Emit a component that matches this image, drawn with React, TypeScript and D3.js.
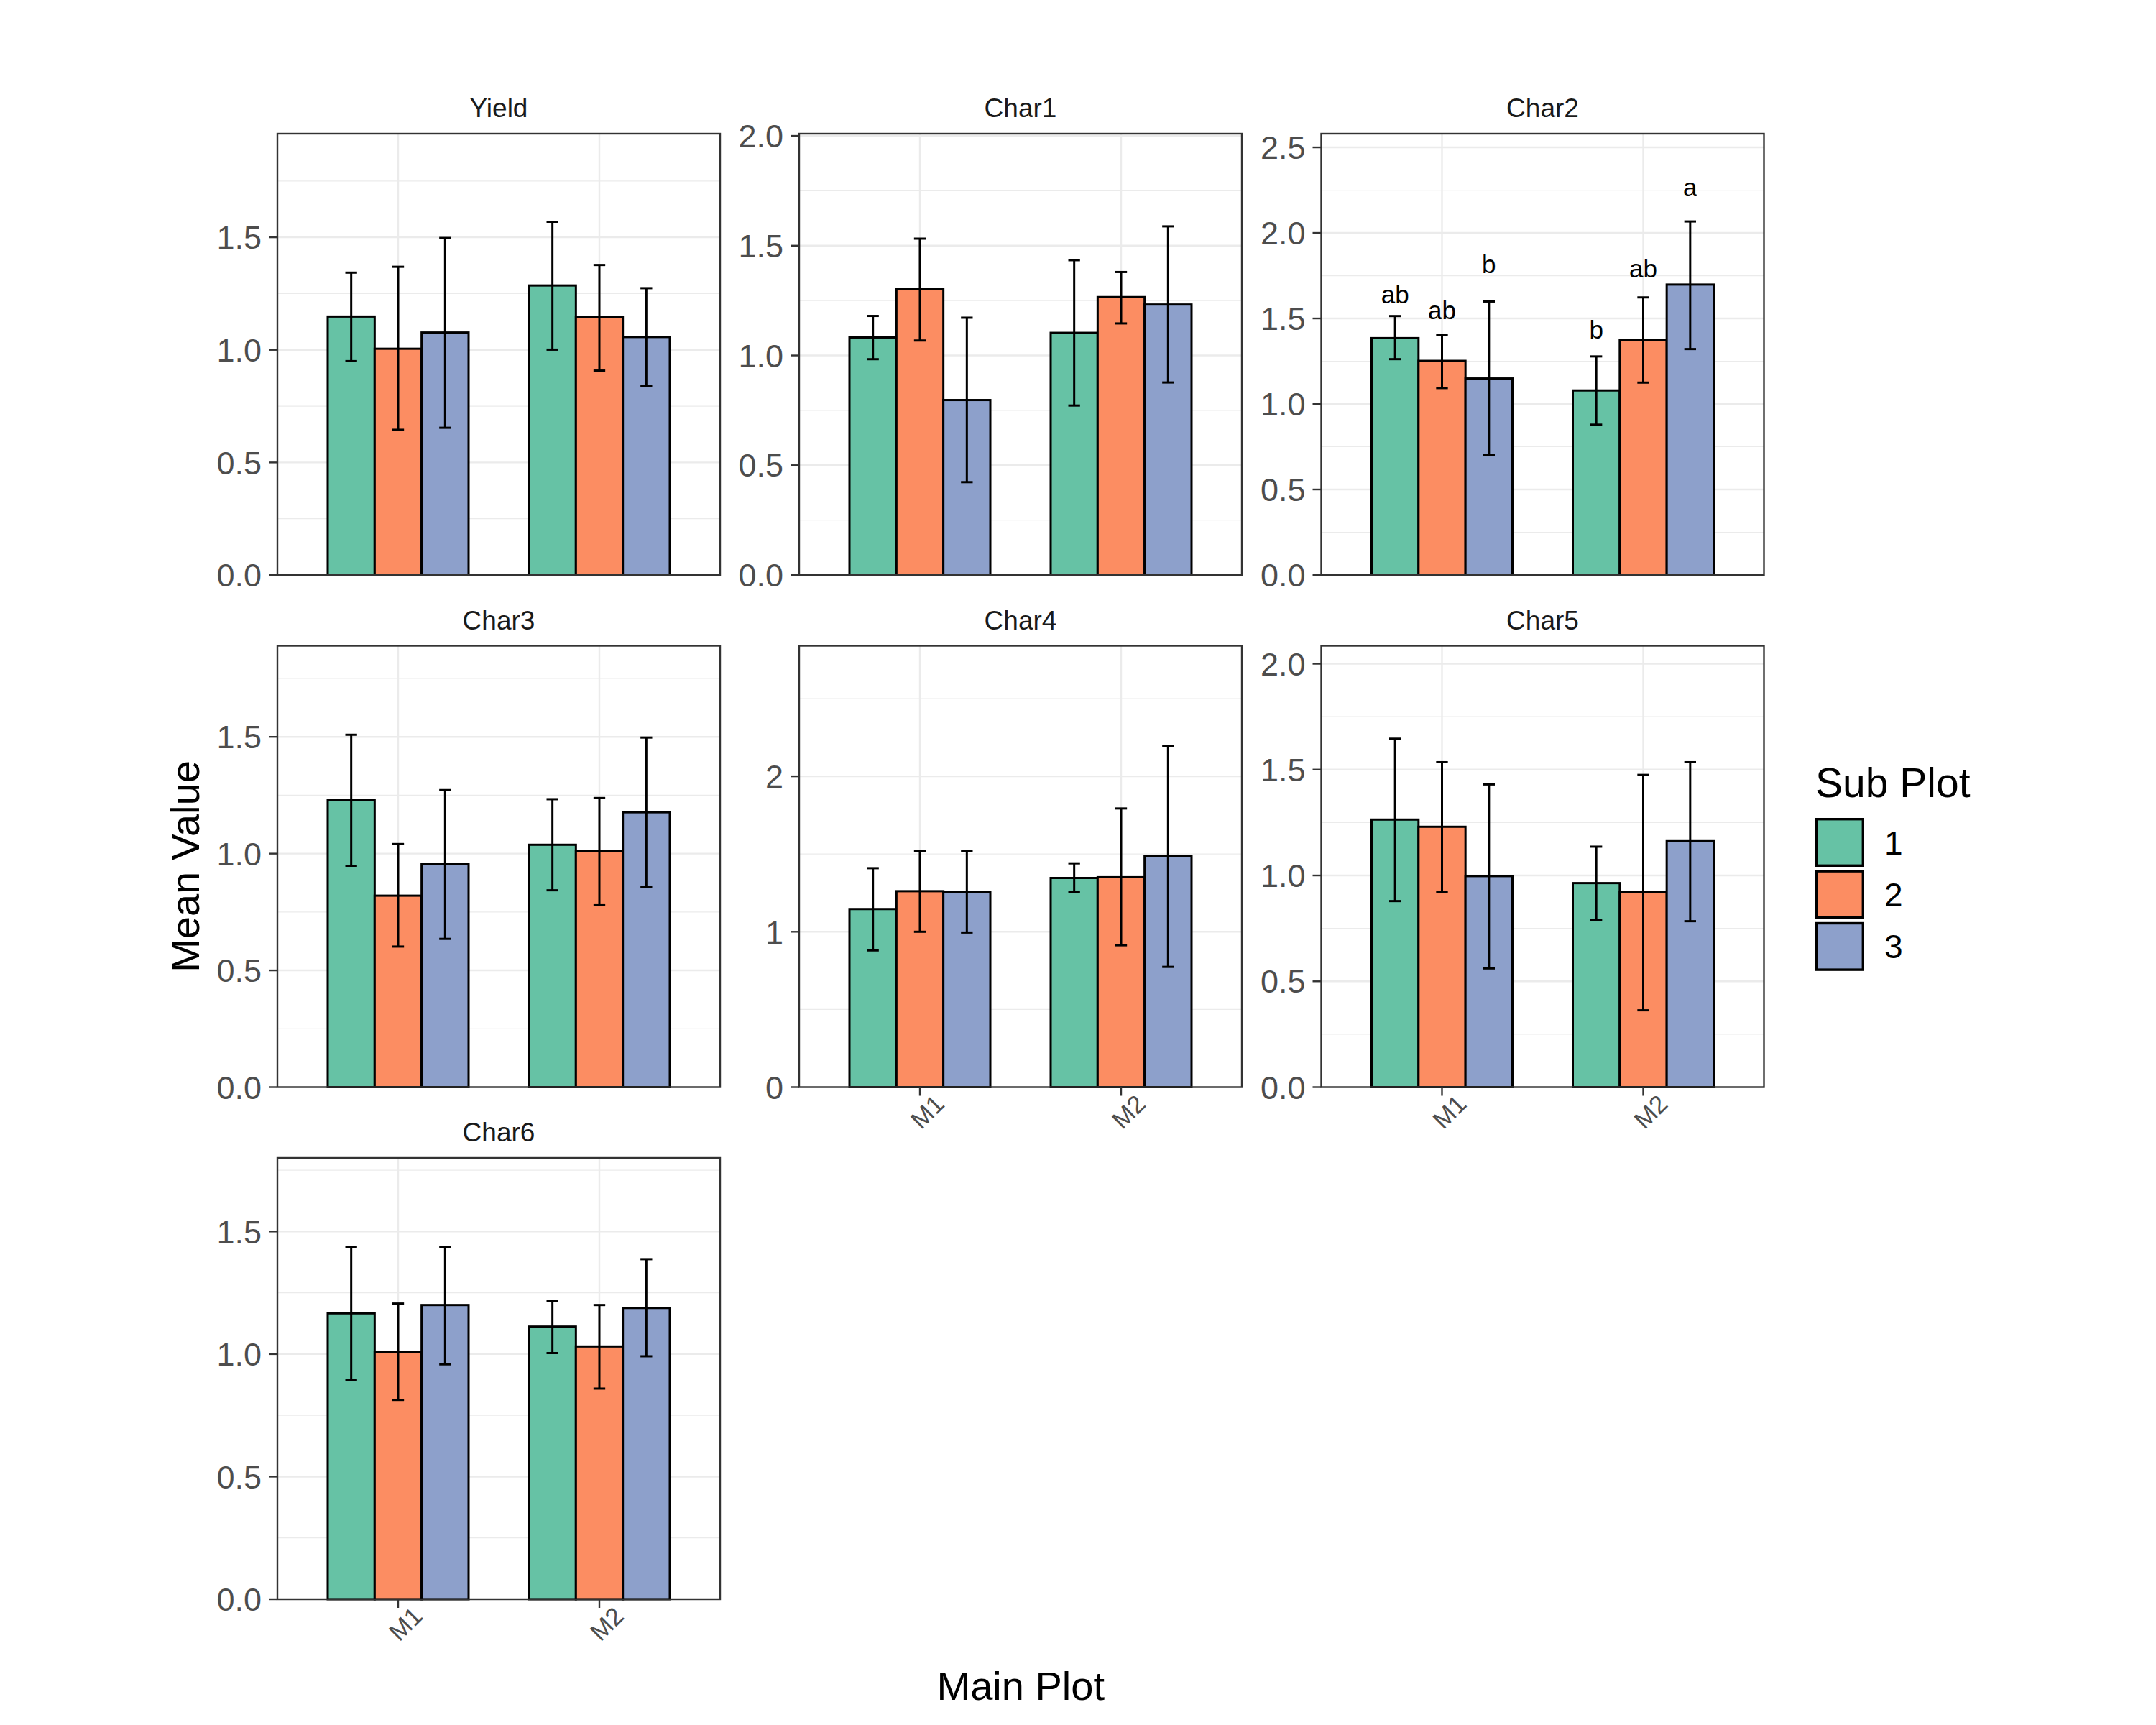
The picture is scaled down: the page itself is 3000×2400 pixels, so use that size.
import React, { useRef, useEffect } from 'react';
import * as d3 from 'd3';

// facet panels, in facet_wrap order (3 columns)
const panelNames = ['Yield', 'Char1', 'Char2', 'Char3', 'Char4', 'Char5', 'Char6'];
const mainPlots = ['M1', 'M2'];
const subPlots = ['1', '2', '3'];
const subColors = ['#66C2A5', '#FC8D62', '#8DA0CB'];

// mean per bar: M1 (sub 1,2,3), M2 (sub 1,2,3)
const meanValues = [
  [1.148, 1.005, 1.077, 1.286, 1.145, 1.057],
  [1.082, 1.302, 0.797, 1.103, 1.266, 1.232],
  [1.385, 1.252, 1.149, 1.079, 1.375, 1.698],
  [1.230, 0.820, 0.955, 1.038, 1.012, 1.177],
  [1.146, 1.261, 1.254, 1.346, 1.351, 1.485],
  [1.264, 1.230, 0.997, 0.964, 0.922, 1.162],
  [1.166, 1.007, 1.200, 1.112, 1.031, 1.188],
];

// error bar top (mean + se)
const upperValues = [
  [1.343, 1.369, 1.497, 1.569, 1.377, 1.274],
  [1.180, 1.532, 1.172, 1.434, 1.380, 1.588],
  [1.514, 1.405, 1.599, 1.278, 1.623, 2.067],
  [1.509, 1.041, 1.272, 1.233, 1.238, 1.497],
  [1.409, 1.518, 1.518, 1.440, 1.793, 2.193],
  [1.646, 1.535, 1.430, 1.136, 1.475, 1.535],
  [1.438, 1.206, 1.438, 1.217, 1.200, 1.387],
];

// error bar bottom (mean - se)
const lowerValues = [
  [0.950, 0.645, 0.654, 1.001, 0.908, 0.839],
  [0.983, 1.068, 0.423, 0.772, 1.146, 0.877],
  [1.262, 1.093, 0.702, 0.879, 1.125, 1.321],
  [0.948, 0.602, 0.635, 0.843, 0.779, 0.856],
  [0.880, 1.000, 0.995, 1.254, 0.913, 0.774],
  [0.879, 0.921, 0.561, 0.791, 0.363, 0.784],
  [0.894, 0.813, 0.958, 1.004, 0.859, 0.991],
];

// free y scales: upper limit and break step per panel
const yMaxValues = [1.96, 2.01, 2.58, 1.89, 2.84, 2.085, 1.80];
const yTickSteps = [0.5, 0.5, 0.5, 0.5, 1, 0.5, 0.5];

// significance letters (Char2 only), baseline height in data units
const char2Letters = ['ab', 'ab', 'b', 'b', 'ab', 'a'];
const char2LetterY = [1.589, 1.494, 1.764, 1.381, 1.740, 2.214];

const FONT = '"Liberation Sans", Arial, Helvetica, sans-serif';

const App: React.FC = () => {
  const ref = useRef<SVGSVGElement | null>(null);

  useEffect(() => {
    if (!ref.current) return;
    const svg = d3.select(ref.current);
    svg.selectAll('*').remove();

    const panelW = 616;
    const panelH = 614;
    const colX = [386, 1112, 1838.5];
    const rowY = [186, 898.5, 1611];
    const nCol = 3;
    const nPanels = panelNames.length;

    panelNames.forEach((name, p) => {
      const col = p % nCol;
      const row = Math.floor(p / nCol);
      const left = colX[col];
      const top = rowY[row];
      // bottom panel of its column gets the x axis
      const showX = p + nCol >= nPanels;

      const g = svg.append('g').attr('transform', `translate(${left},${top})`);

      const x = d3.scaleBand<string>()
        .domain(mainPlots)
        .range([0, panelW])
        .paddingInner(0.3)
        .paddingOuter(0.25);
      const xSub = d3.scaleBand<string>()
        .domain(subPlots)
        .range([0, x.bandwidth()]);
      const y = d3.scaleLinear()
        .domain([0, yMaxValues[p]])
        .range([panelH, 0]);

      const step = yTickSteps[p];
      const majors = d3.range(0, yMaxValues[p] + 1e-9, step);
      const minors = d3.range(step / 2, yMaxValues[p], step);

      g.append('rect')
        .attr('width', panelW)
        .attr('height', panelH)
        .attr('fill', '#FFFFFF');

      // grid
      g.selectAll('.minor')
        .data(minors)
        .enter()
        .append('line')
        .attr('x1', 0)
        .attr('x2', panelW)
        .attr('y1', d => y(d))
        .attr('y2', d => y(d))
        .attr('stroke', '#EBEBEB')
        .attr('stroke-width', 1.2);
      g.selectAll('.major')
        .data(majors)
        .enter()
        .append('line')
        .attr('x1', 0)
        .attr('x2', panelW)
        .attr('y1', d => y(d))
        .attr('y2', d => y(d))
        .attr('stroke', '#EBEBEB')
        .attr('stroke-width', 2.4);
      g.selectAll('.vmajor')
        .data(mainPlots)
        .enter()
        .append('line')
        .attr('x1', d => (x(d) as number) + x.bandwidth() / 2)
        .attr('x2', d => (x(d) as number) + x.bandwidth() / 2)
        .attr('y1', 0)
        .attr('y2', panelH)
        .attr('stroke', '#EBEBEB')
        .attr('stroke-width', 2.4);

      // bars
      const bars = mainPlots.flatMap((m, i) =>
        subPlots.map((s, j) => ({
          m,
          s,
          j,
          mean: meanValues[p][i * 3 + j],
          lo: lowerValues[p][i * 3 + j],
          hi: upperValues[p][i * 3 + j],
          idx: i * 3 + j,
        }))
      );
      const cx = (d: { m: string; s: string }) =>
        (x(d.m) as number) + (xSub(d.s) as number) + xSub.bandwidth() / 2;

      g.selectAll('.bar')
        .data(bars)
        .enter()
        .append('rect')
        .attr('x', d => (x(d.m) as number) + (xSub(d.s) as number))
        .attr('y', d => y(d.mean))
        .attr('width', xSub.bandwidth())
        .attr('height', d => y(0) - y(d.mean))
        .attr('fill', d => subColors[d.j])
        .attr('stroke', '#000000')
        .attr('stroke-width', 3);

      // error bars
      const capW = xSub.bandwidth() * 0.25;
      const eb = g.selectAll('.err').data(bars).enter().append('g');
      eb.append('line')
        .attr('x1', cx)
        .attr('x2', cx)
        .attr('y1', d => y(d.lo))
        .attr('y2', d => y(d.hi))
        .attr('stroke', '#000')
        .attr('stroke-width', 3);
      eb.append('line')
        .attr('x1', d => cx(d) - capW / 2)
        .attr('x2', d => cx(d) + capW / 2)
        .attr('y1', d => y(d.hi))
        .attr('y2', d => y(d.hi))
        .attr('stroke', '#000')
        .attr('stroke-width', 3);
      eb.append('line')
        .attr('x1', d => cx(d) - capW / 2)
        .attr('x2', d => cx(d) + capW / 2)
        .attr('y1', d => y(d.lo))
        .attr('y2', d => y(d.lo))
        .attr('stroke', '#000')
        .attr('stroke-width', 3);

      // letters
      if (name === 'Char2') {
        g.selectAll('.letter')
          .data(bars)
          .enter()
          .append('text')
          .attr('x', cx)
          .attr('y', d => y(char2LetterY[d.idx]))
          .attr('text-anchor', 'middle')
          .attr('font-family', FONT)
          .attr('font-size', 35)
          .attr('fill', '#000')
          .text(d => char2Letters[d.idx]);
      }

      // panel border
      g.append('rect')
        .attr('width', panelW)
        .attr('height', panelH)
        .attr('fill', 'none')
        .attr('stroke', '#333333')
        .attr('stroke-width', 2.4);

      // y axis
      const yAxis = g.append('g');
      yAxis.selectAll('line')
        .data(majors)
        .enter()
        .append('line')
        .attr('x1', -12)
        .attr('x2', 0)
        .attr('y1', d => y(d))
        .attr('y2', d => y(d))
        .attr('stroke', '#333333')
        .attr('stroke-width', 2.4);
      yAxis.selectAll('text')
        .data(majors)
        .enter()
        .append('text')
        .attr('x', -22)
        .attr('y', d => y(d))
        .attr('dy', '0.36em')
        .attr('text-anchor', 'end')
        .attr('font-family', FONT)
        .attr('font-size', 45)
        .attr('fill', '#4D4D4D')
        .text(d => (step < 1 ? d3.format('.1f')(d) : d3.format('d')(d)));

      // x axis
      if (showX) {
        const xAxis = g.append('g').attr('transform', `translate(0,${panelH})`);
        xAxis.selectAll('line')
          .data(mainPlots)
          .enter()
          .append('line')
          .attr('x1', d => (x(d) as number) + x.bandwidth() / 2)
          .attr('x2', d => (x(d) as number) + x.bandwidth() / 2)
          .attr('y1', 0)
          .attr('y2', 12)
          .attr('stroke', '#333333')
          .attr('stroke-width', 2.4);
        xAxis.selectAll('text')
          .data(mainPlots)
          .enter()
          .append('text')
          .attr('transform', d => {
            const tx = (x(d) as number) + x.bandwidth() / 2 + 10;
            return `translate(${tx},34) rotate(-45)`;
          })
          .attr('dy', '0.36em')
          .attr('text-anchor', 'middle')
          .attr('font-family', FONT)
          .attr('font-size', 35)
          .attr('fill', '#4D4D4D')
          .text(d => d);
      }

      // strip title
      g.append('text')
        .attr('x', panelW / 2)
        .attr('y', -23)
        .attr('text-anchor', 'middle')
        .attr('font-family', FONT)
        .attr('font-size', 37)
        .attr('fill', '#1A1A1A')
        .text(name);
    });

    // axis titles
    const plotLeft = colX[0];
    const plotRight = colX[2] + panelW;
    const plotTop = rowY[0];
    const plotBottom = rowY[2] + panelH;

    svg.append('text')
      .attr('x', (plotLeft + plotRight) / 2)
      .attr('y', 2365)
      .attr('text-anchor', 'middle')
      .attr('font-family', FONT)
      .attr('font-size', 56)
      .attr('fill', '#000')
      .text('Main Plot');

    svg.append('text')
      .attr('transform', `translate(277,${(plotTop + plotBottom) / 2}) rotate(-90)`)
      .attr('text-anchor', 'middle')
      .attr('font-family', FONT)
      .attr('font-size', 56)
      .attr('fill', '#000')
      .text('Mean Value');

    // legend
    const legend = svg.append('g').attr('transform', 'translate(2526,0)');
    legend.append('text')
      .attr('x', 0)
      .attr('y', 1109)
      .attr('font-family', FONT)
      .attr('font-size', 57)
      .attr('fill', '#000')
      .text('Sub Plot');
    const keyY = d3.scaleBand<string>()
      .domain(subPlots)
      .range([1138, 1138 + 72.4 * 3]);
    const keys = legend.selectAll('.key').data(subPlots).enter().append('g');
    keys.append('rect')
      .attr('x', 1.7)
      .attr('y', d => (keyY(d) as number) + 1.7)
      .attr('width', 64.6)
      .attr('height', 64.6)
      .attr('fill', (d, i) => subColors[i])
      .attr('stroke', '#000')
      .attr('stroke-width', 3.4);
    keys.append('text')
      .attr('x', 96)
      .attr('y', d => (keyY(d) as number) + 34)
      .attr('dy', '0.36em')
      .attr('font-family', FONT)
      .attr('font-size', 46)
      .attr('fill', '#000')
      .text(d => d);
  }, []);

  return (
    <svg
      ref={ref}
      width={3000}
      height={2400}
      style={{ position: 'absolute', left: 0, top: 0, background: '#FFFFFF' }}
    />
  );
};

export default App;
